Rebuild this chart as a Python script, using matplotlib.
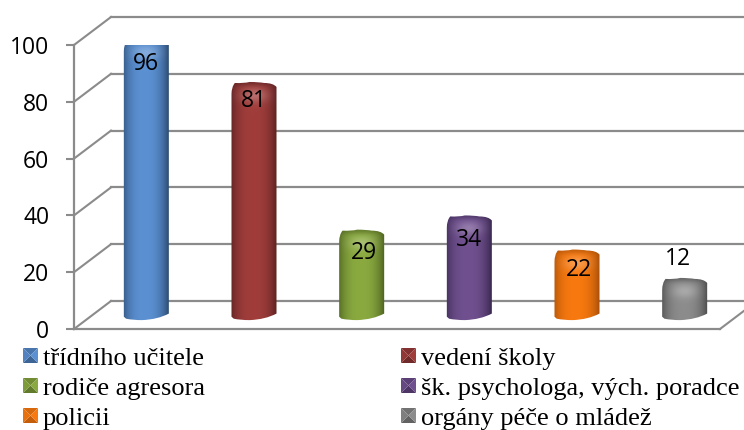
import numpy as np
import matplotlib
matplotlib.use('Agg')
import matplotlib.pyplot as plt
from matplotlib.colors import to_rgb
from matplotlib.path import Path
from matplotlib.patches import Polygon
from matplotlib.transforms import Affine2D

# Data
categories = ['třídního učitele', 'vedení školy', 'rodiče agresora',
              'šk. psychologa, vých. poradce', 'policii', 'orgány péče o mládež']
values = [96, 81, 29, 34, 22, 12]
y_ticks = [0, 20, 40, 60, 80, 100]

# Styles
centre_colors = ['#5b90d2', '#a03d3b', '#8aaa40', '#70508f', '#f7790f', '#8c8c8c']
edge_colors = ['#2c4c72', '#552020', '#4b601f', '#3a2850', '#a84f08', '#4c4c4c']
label_offsets = [-25, -19, -23, -25, -20, 19]   # px from the bar top
label_shift_x = [0, 0, 2, 0, 2, -7]
grid_color = '#8b8b8b'

W, H = 744, 430
DEPTH_X, DEPTH_Y = 37, 28

fig = plt.figure(figsize=(W / 100, H / 100), dpi=100)
ax = fig.add_axes([74 / W, (H - 329) / H, 646 / W, 284 / H])
ax.set_xlim(-0.5, 5.5)
ax.set_ylim(0, 100)
ax.patch.set_alpha(0)

px_x = 6 / 646      # data units per pixel
px_y = 100 / 284
mid_depth = ax.transData + Affine2D().translate(DEPTH_X / 2, DEPTH_Y / 2)

# walls and floor
for v in y_ticks:
    ax.plot([-0.5, -0.5 + DEPTH_X * px_x], [v, v + DEPTH_Y * px_y], color=grid_color,
            lw=1.5, clip_on=False, zorder=1)
    ax.plot([-0.5 + DEPTH_X * px_x, 5.5 + 24 * px_x], [v + DEPTH_Y * px_y] * 2, color=grid_color,
            lw=1.6, clip_on=False, zorder=1)
ax.plot([5.5, 5.5 + 24 * px_x], [0, 24 * DEPTH_Y / DEPTH_X * px_y], color=grid_color,
        lw=1.5, clip_on=False, zorder=1)

for s in ['top', 'right']:
    ax.spines[s].set_visible(False)
for s in ['left', 'bottom']:
    ax.spines[s].set_color(grid_color)
    ax.spines[s].set_linewidth(1.6)
ax.set_xticks([])
ax.set_yticks(y_ticks)
ax.tick_params(axis='y', length=5.8, width=1.5, color=grid_color, pad=12, labelsize=16.5)
for t in ax.get_yticklabels():
    t.set_fontfamily('Open Sans')


def bar_path(i, v):
    w = 22.5 * px_x
    top = v + 3 * px_y
    xl, xr = i - w, i + w
    verts = [(xl, -0.6), (xl, v - 9 * px_y),
             (xl, v - 2 * px_y), (i - w * 0.85, top - 1 * px_y), (i - w * 0.45, top - 1.5 * px_y),
             (i - w * 0.2, top), (i + w * 0.2, top), (i + w * 0.45, top - 1 * px_y),
             (i + w * 0.85, top - 1 * px_y), (xr, v - 2 * px_y), (xr, v - 9 * px_y),
             (xr, 0.5), (i + w * 0.5, -1.6), (i - w * 0.2, -1.8),
             (i - w * 0.6, -1.8), (xl + w * 0.1, -1.3), (xl, -0.6), (xl, -0.6)]
    codes = [Path.MOVETO, Path.LINETO] + [Path.CURVE3] * 8 + [Path.LINETO, Path.LINETO] + \
            [Path.CURVE3] * 4 + [Path.LINETO, Path.CLOSEPOLY]
    return Path(verts, codes)


for i, v in enumerate(values):
    c0 = np.array(to_rgb(centre_colors[i]))
    c1 = np.array(to_rgb(edge_colors[i]))
    nx, ny = 90, 500
    u = np.linspace(-1, 1, nx)
    prof = np.abs(u + 0.05) ** 2.6
    img = np.zeros((ny, nx, 3))
    y_lo, y_hi = -3, v + 4 * px_y
    ys = np.linspace(y_hi, y_lo, ny)
    for k in range(ny):
        d = (v + 3 * px_y - ys[k]) / px_y     # px below the top
        cap = np.exp(-(d / 4) ** 2) * 0.55
        glow = np.exp(-((d - 13) / 7) ** 2) * np.exp(-(u / 0.55) ** 2) * 0.25
        row = c0[None, :] * (1 - prof[:, None]) + c1[None, :] * prof[:, None]
        row = row * (1 - cap) + c1 * cap
        row = row + (1 - row) * glow[:, None]
        img[k] = row
    im = ax.imshow(img, extent=[i - 24 * px_x, i + 24 * px_x, y_lo, y_hi], aspect='auto',
                   transform=mid_depth, interpolation='bilinear', zorder=3)
    im.set_clip_box(None)
    im.set_clip_path(bar_path(i, v), mid_depth)
    lx, ly = mid_depth.transform((i, v))
    fig.text((lx + label_shift_x[i]) / W, (ly + 3 + label_offsets[i]) / H, str(v), ha='center', va='center',
             fontsize=16.5, family='Open Sans', color='black', zorder=5)

ax.set_xlim(-0.5, 5.5)
ax.set_ylim(0, 100)

# legend
to_fig = Affine2D().scale(1 / W, -1 / H).translate(0, 1) + fig.transFigure
col_x = [23, 401]
row_y = [348, 378, 408]
for n, name in enumerate(categories):
    x0 = col_x[n % 2]
    y0 = row_y[n // 2]
    s = 15
    c0 = np.array(to_rgb(centre_colors[n]))
    c1 = np.array(to_rgb(edge_colors[n]))
    cx, cy = x0 + s / 2, y0 + s / 2
    faces = [([(x0, y0), (x0 + s, y0), (cx, cy)], c0 * 0.6 + c1 * 0.4),
             ([(x0, y0 + s), (x0 + s, y0 + s), (cx, cy)], c0 * 0.35 + c1 * 0.65),
             ([(x0, y0), (x0, y0 + s), (cx, cy)], c0 * 0.8 + c1 * 0.2),
             ([(x0 + s, y0), (x0 + s, y0 + s), (cx, cy)], c0)]
    for pts, col in faces:
        fig.add_artist(Polygon(pts, closed=True, facecolor=col, edgecolor='none', transform=to_fig))
    fig.text((x0 + 20) / W, 1 - (y0 + 17) / H, name, ha='left', va='baseline',
             fontsize=19, family='Liberation Serif', color='black')

fig.savefig('out.png', dpi=100)
